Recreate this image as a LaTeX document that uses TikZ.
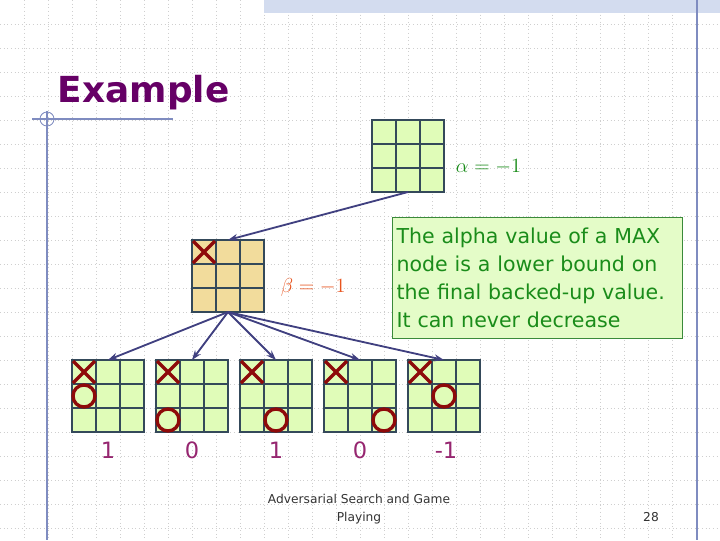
\documentclass[tikz,border=0pt]{standalone}
\usepackage{fontspec}
\setmainfont{DejaVu Sans}
\usetikzlibrary{arrows.meta}

\definecolor{titlepurple}{HTML}{660066}
\definecolor{rulerblue}{HTML}{7F8CC0}
\definecolor{bandblue}{HTML}{D3DCEF}
\definecolor{gridgray}{HTML}{CFCFCF}
\definecolor{boardgreen}{HTML}{E0FCB8}
\definecolor{boardtan}{HTML}{F2DC9C}
\definecolor{boardline}{HTML}{34495A}
\definecolor{markred}{HTML}{8E0A0A}
\definecolor{arrowblue}{HTML}{404080}
\definecolor{alphagreen}{HTML}{1A8C1A}
\definecolor{betaorange}{HTML}{E8541E}
\definecolor{valpurple}{HTML}{962670}
\definecolor{notefill}{HTML}{E4FCC8}
\definecolor{noteline}{HTML}{3A8A3A}

\tikzset{
  board/.style={draw=boardline, line width=1pt, minimum size=1.8cm,
    inner sep=0pt, outer sep=0pt},
  cellline/.style={draw=boardline, line width=1pt},
  xmark/.style={draw=markred, line width=2.4pt},
  omark/.style={draw=markred, line width=2.4pt},
  edge/.style={draw=arrowblue, line width=1.3pt,
    -{Stealth[length=7pt,width=5pt]}},
  value/.style={text=valpurple, font=\fontsize{16}{18}\selectfont, anchor=base}
}

% a 3x3 board: name, left, top, fill
\newcommand{\tttboard}[4]{%
  \node[board, fill=#4] (#1) at (#2+36,#3+36) {};
  \foreach \k in {24,48} {
    \draw[cellline] (#2+\k,#3) -- (#2+\k,#3+72);
    \draw[cellline] (#2,#3+\k) -- (#2+72,#3+\k);
  }
}
% cross and nought in the cell whose top left corner is given
\newcommand{\putx}[2]{\draw[xmark] (#1+1,#2+1) -- (#1+23,#2+23) (#1+23,#2+1) -- (#1+1,#2+23);}
\newcommand{\puto}[2]{\draw[omark] (#1+12,#2+12) circle[radius=0.275cm];}

\begin{document}
\begin{tikzpicture}[x=0.025cm, y=-0.025cm]

\useasboundingbox (0,0) rectangle (720,540);
\fill[white] (0,0) rectangle (720,540);

% dotted background grid
\foreach \i in {1,...,29} \draw[gridgray, dotted, line width=0.6pt] (24*\i,0) -- (24*\i,540);
\foreach \j in {1,...,22} \draw[gridgray, dotted, line width=0.6pt] (0,24*\j) -- (720,24*\j);

% slide frame
\fill[bandblue] (264,0) rectangle (720,13);
\draw[rulerblue, line width=1.2pt] (697,0) -- (697,540);
\draw[rulerblue, line width=0.8pt] (32,119) -- (173,119);
\draw[rulerblue, line width=0.8pt] (47,111) -- (47,540);
\draw[rulerblue, line width=0.6pt] (47,119) circle[radius=0.175cm];

% title
\node[anchor=base west, text=titlepurple, font=\fontsize{25.5}{30}\selectfont\bfseries]
  (title) at (53,102) {Example};

% root (MAX) board
\tttboard{root}{372}{120}{boardgreen}
\node[anchor=base west, text=alphagreen, font=\fontsize{14}{16}\selectfont]
  (alphaLbl) at (451,172) {$\alpha = -1$};

% MIN board
\tttboard{mid}{192}{240}{boardtan}
\putx{192}{240}
\node[anchor=base west, text=betaorange, font=\fontsize{14}{16}\selectfont]
  (betaLbl) at (276,292) {$\beta = -1$};

% leaves
\tttboard{leafA}{72}{360}{boardgreen}
\tttboard{leafB}{156}{360}{boardgreen}
\tttboard{leafC}{240}{360}{boardgreen}
\tttboard{leafD}{324}{360}{boardgreen}
\tttboard{leafE}{408}{360}{boardgreen}

\putx{72}{360}  \puto{72}{384}
\putx{156}{360} \puto{156}{408}
\putx{240}{360} \puto{264}{408}
\putx{324}{360} \puto{372}{408}
\putx{408}{360} \puto{432}{384}

% leaf values
\node[value] (valA) at (108,458) {1};
\node[value] (valB) at (192,458) {0};
\node[value] (valC) at (276,458) {1};
\node[value] (valD) at (360,458) {0};
\node[value] (valE) at (446,458) {-1};

% arrows
\draw[edge] (root.south) -- (mid.north);
\draw[edge] (mid.south) -- (leafA.north);
\draw[edge] (mid.south) -- (leafB.north);
\draw[edge] (mid.south) -- (leafC.north);
\draw[edge] (mid.south) -- (leafD.north);
\draw[edge] (mid.south) -- (leafE.north);

% note box
\node[anchor=north west, draw=noteline, fill=notefill, line width=0.8pt,
  minimum width=7.25cm, minimum height=3.025cm, text width=7.05cm,
  inner xsep=0.1cm, align=left, text=alphagreen,
  font=\fontsize{14.6}{19.9}\selectfont]
  (note) at (392,217) {The alpha value of a MAX\\node is a lower bound on\\the final backed-up value.\\It can never decrease};

% footer
\node[align=center, text=black!80, font=\fontsize{8.7}{12.8}\selectfont]
  (footer) at (359,509) {Adversarial Search and Game\\Playing};
\node[text=black!80, font=\fontsize{8.7}{10}\selectfont] (pageNum) at (651,517) {28};

\end{tikzpicture}
\end{document}
